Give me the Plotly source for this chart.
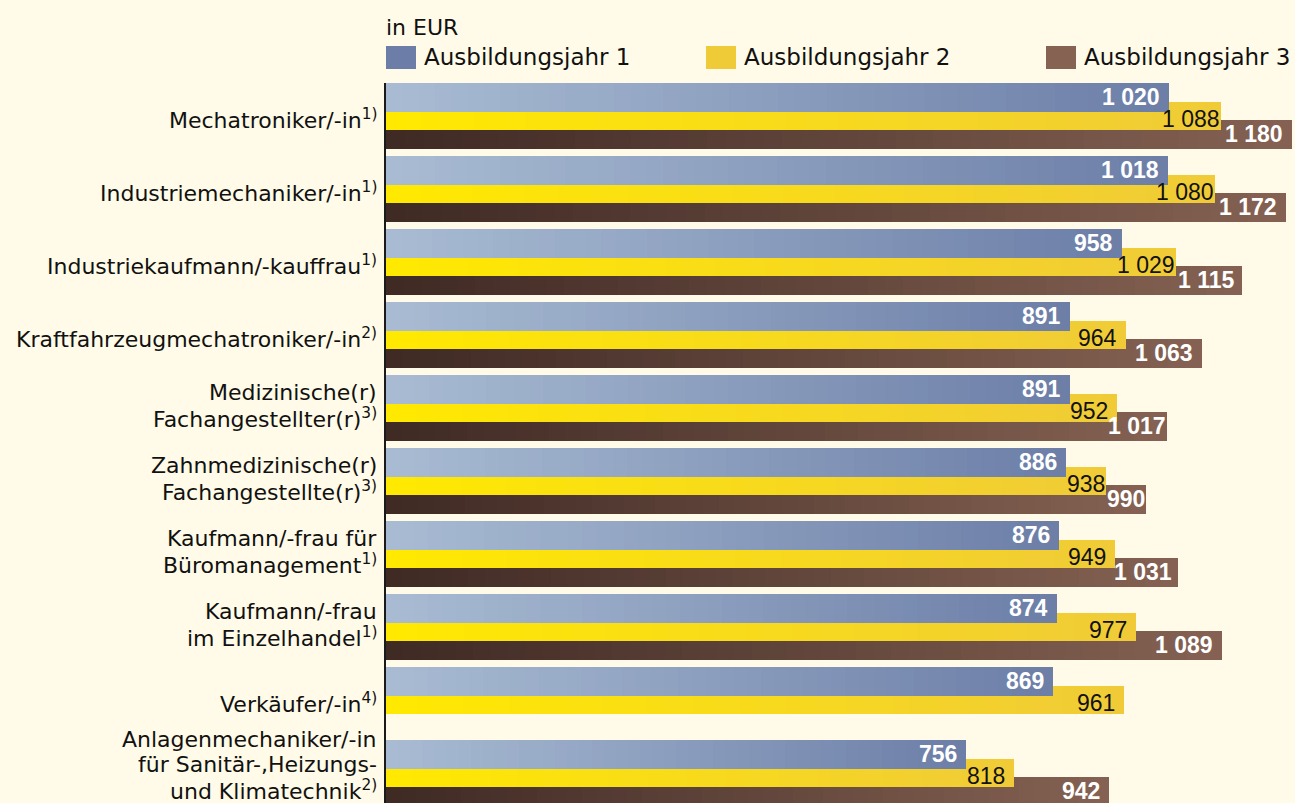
import plotly.graph_objects as go

# ---------------- data ----------------
categories = [
    "Mechatroniker/-in",
    "Industriemechaniker/-in",
    "Industriekaufmann/-kauffrau",
    "Kraftfahrzeugmechatroniker/-in",
    "Medizinische(r)<br>Fachangestellter(r)",
    "Zahnmedizinische(r)<br>Fachangestellte(r)",
    "Kaufmann/-frau für<br>Büromanagement",
    "Kaufmann/-frau<br>im Einzelhandel",
    "Verkäufer/-in",
    "Anlagenmechaniker/-in<br>für Sanitär-,Heizungs-<br>und Klimatechnik",
]
footnotes = ["1)", "1)", "1)", "2)", "3)", "3)", "1)", "1)", "4)", "2)"]
series_names = ["Ausbildungsjahr 1", "Ausbildungsjahr 2", "Ausbildungsjahr 3"]
year1 = [1020, 1018, 958, 891, 891, 886, 876, 874, 869, 756]
year2 = [1088, 1080, 1029, 964, 952, 938, 949, 977, 961, 818]
year3 = [1180, 1172, 1115, 1063, 1017, 990, 1031, 1089, None, 942]
unit_label = "in EUR"

# ---------------- layout geometry / styles ----------------
W, H = 1295, 803
L, T = 386, 83            # plot area left / top in px
PITCH = 73                # px per category group
PX_PER_EUR = (1292 - 386) / 1180
X_MAX = (W - L) / PX_PER_EUR
K = 48                    # gradient slices per bar
BG = "#FFFBE8"

LABEL_FONT = "DejaVu Sans, Verdana, sans-serif"
VALUE_FONT = "Liberation Sans, Arial, sans-serif"
VALUE_SIZE = 23

styles = [
    dict(c0="#A9BCD3", c1="#6C7EA7", top=0, bot=29, mid=13.5, fc="white", bold=True),
    dict(c0="#FFE900", c1="#F0CB38", top=19, bot=47, mid=36.3, fc="#111111", bold=False),
    dict(c0="#3E2924", c1="#856252", top=37, bot=66, mid=51.0, fc="white", bold=True),
]
series_values = [year1, year2, year3]


def hex2rgb(h):
    h = h.lstrip("#")
    return tuple(int(h[i:i + 2], 16) for i in (0, 2, 4))


def mix(c0, c1, t):
    a, b = hex2rgb(c0), hex2rgb(c1)
    return "rgb(%d,%d,%d)" % tuple(round(a[j] + (b[j] - a[j]) * t) for j in range(3))


def fmt(v):
    return f"{v:,}".replace(",", " ")


def text_px(txt):
    # approximate rendered width of a number label (Arial-metric digits)
    return sum(0.556 if c.isdigit() else 0.278 for c in txt) * VALUE_SIZE


fig = go.Figure()

# draw order: year 3 (bottom), year 2, year 1 (top)
for s in (2, 1, 0):
    vals, st = series_values[s], styles[s]
    ys, xs, bases, cols = [], [], [], []
    for i, v in enumerate(vals):
        if v is None:
            continue
        for k in range(K):
            ys.append(i + (st["top"] + st["bot"]) / 2 / PITCH)
            xs.append(v / K)
            bases.append(v * k / K)
            cols.append(mix(st["c0"], st["c1"], (k + 0.5) / K))
    fig.add_trace(go.Bar(
        orientation="h", y=ys, x=xs, base=bases,
        width=(st["bot"] - st["top"]) / PITCH,
        marker=dict(color=cols, line=dict(width=0)),
        name=series_names[s], showlegend=False, hoverinfo="skip",
    ))

annotations = []

# value labels
for s in range(3):
    vals, st = series_values[s], styles[s]
    for i, v in enumerate(vals):
        if v is None:
            continue
        txt = fmt(v)
        if s == 0:
            pad = 9
        else:
            box = (v - series_values[s - 1][i]) * PX_PER_EUR
            pad = min(9, max(1, box - text_px(txt)))
        if st["bold"]:
            txt = "<b>" + txt + "</b>"
        annotations.append(dict(
            x=v, y=i + st["mid"] / PITCH, xref="x", yref="y",
            text=txt, showarrow=False, xanchor="right", yanchor="middle",
            xshift=-pad, borderpad=0, borderwidth=0,
            font=dict(family=VALUE_FONT, size=VALUE_SIZE, color=st["fc"]),
        ))

# category labels (one annotation per line for tight line spacing)
LINE_H = 25.5
for i, (cat, fn) in enumerate(zip(categories, footnotes)):
    lines = cat.split("<br>")
    n = len(lines)
    center = {1: 36.0, 2: 30.0, 3: 24.5}[n]
    for j, line in enumerate(lines):
        txt = line + ("<sup>" + fn + "</sup>" if j == n - 1 else "")
        mid = center + (j - (n - 1) / 2) * LINE_H
        annotations.append(dict(
            x=0, y=i + mid / PITCH, xref="x", yref="y",
            text=txt, showarrow=False, xanchor="right", yanchor="middle",
            xshift=-9, borderpad=0, borderwidth=0,
            font=dict(family=LABEL_FONT, size=22, color="#111111"),
        ))


def py(ypx):
    return (H - ypx) / (H - T)


def pxx(xpx):
    return (xpx - L) / (W - L)


# unit label
annotations.append(dict(
    x=pxx(386), y=py(27), xref="paper", yref="paper", text=unit_label,
    showarrow=False, xanchor="left", yanchor="middle", borderpad=0, borderwidth=0,
    font=dict(family=LABEL_FONT, size=22, color="#111111"),
))

# legend (swatches + text)
shapes = []
legend_x = [386, 706, 1046]
for s in range(3):
    x0 = legend_x[s]
    shapes.append(dict(
        type="rect", xref="paper", yref="paper",
        x0=pxx(x0), x1=pxx(x0 + 30), y0=py(69), y1=py(46),
        fillcolor=styles[s]["c1"], line=dict(width=0), layer="above",
    ))
    annotations.append(dict(
        x=pxx(x0 + 38), y=py(57), xref="paper", yref="paper", text=series_names[s],
        showarrow=False, xanchor="left", yanchor="middle", borderpad=0, borderwidth=0,
        font=dict(family=LABEL_FONT, size=23, color="#111111"),
    ))

fig.update_layout(
    width=W, height=H,
    margin=dict(l=L, r=0, t=T, b=0, pad=0),
    paper_bgcolor=BG, plot_bgcolor=BG,
    barmode="overlay", bargap=0, bargroupgap=0,
    showlegend=False,
    xaxis=dict(range=[0, X_MAX], visible=False, fixedrange=True),
    yaxis=dict(range=[(H - T) / PITCH, 0], showticklabels=False, showgrid=False,
               zeroline=False, ticks="", showline=True, linewidth=2,
               linecolor="#1a1a1a", fixedrange=True),
    annotations=annotations,
    shapes=shapes,
)

fig.write_html(
    "out.html",
    config={"displayModeBar": False},
    post_script="document.body.style.margin='0';document.body.style.overflow='hidden';"
                "document.body.style.background='" + BG + "';",
)
